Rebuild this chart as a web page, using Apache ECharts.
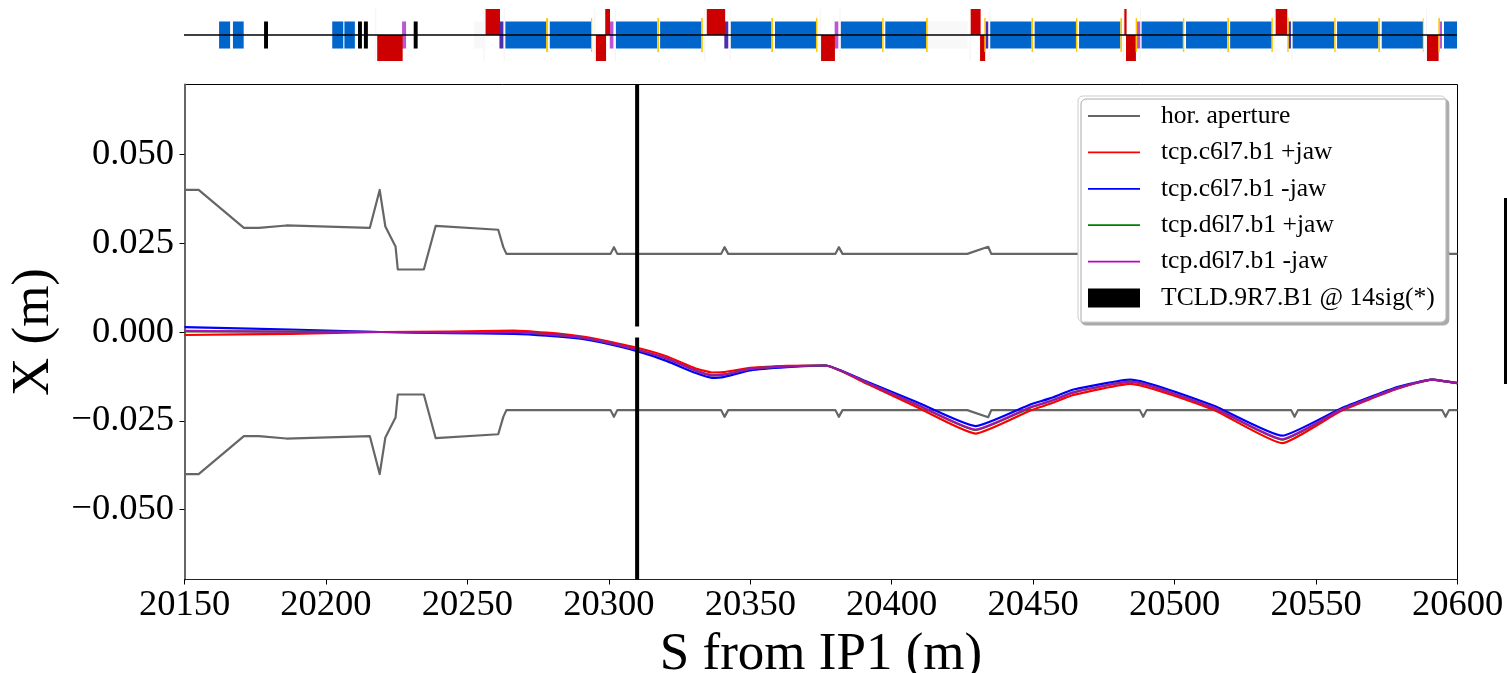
<!DOCTYPE html>
<html>
<head>
<meta charset="utf-8">
<style>html,body{margin:0;padding:0;background:#fff}#c{width:1507px;height:673px}</style>
<script src="https://cdn.jsdelivr.net/npm/echarts@6/dist/echarts.min.js"></script>
</head>
<body>
<div id="c"></div>
<script>
const xTicks = [20150,20200,20250,20300,20350,20400,20450,20500,20550,20600];
const yTicks = [-0.05,-0.025,0,0.025,0.05];

const aperS = [20150,20155,20171,20176.3,20186,20215.5,20219,20221,20224.6,20225.4,20234.6,20238.8,20260.9,20262.7,20263.8,20300.6,20301.8,20303,20339.7,20340.9,20342.2,20380.1,20381.3,20382.6,20426.7,20434.1,20435.2,20487.7,20488.9,20490.1,20541.2,20542.4,20543.6,20594.6,20595.8,20597,20600];
const aperUpper = [0.04,0.04,0.0293,0.0293,0.03,0.0293,0.04,0.0297,0.0241,0.0176,0.0176,0.0299,0.0288,0.0239,0.022,0.022,0.0239,0.022,0.022,0.0239,0.022,0.022,0.0239,0.022,0.022,0.024,0.022,0.022,0.0239,0.022,0.022,0.0239,0.022,0.022,0.0239,0.022,0.022];
const aperLower = [-0.04,-0.04,-0.0293,-0.0293,-0.03,-0.0293,-0.04,-0.0297,-0.0241,-0.0176,-0.0176,-0.0299,-0.0288,-0.0239,-0.022,-0.022,-0.0239,-0.022,-0.022,-0.0239,-0.022,-0.022,-0.0239,-0.022,-0.022,-0.024,-0.022,-0.022,-0.0239,-0.022,-0.022,-0.0239,-0.022,-0.022,-0.0239,-0.022,-0.022];

const jawS = [20150,20187.5,20219.3,20244,20266.3,20278,20290,20297,20310,20320.6,20330.5,20336.5,20340.5,20350,20363,20376.6,20391.3,20409,20429.6,20449,20456,20464.3,20484.4,20513.7,20538,20558.6,20578.7,20591,20600];
const c6Plus = [-0.00085,-0.0005,0,0.00014,0.0004,-0.0002,-0.0012,-0.0022,-0.00445,-0.0069,-0.0102,-0.0114,-0.0113,-0.0101,-0.0095,-0.00944,-0.0146,-0.0212,-0.0286,-0.0221,-0.0202,-0.0177,-0.0146,-0.0219,-0.0313,-0.0223,-0.016,-0.0134,-0.0144];
const c6Minus = [0.0014,0.0007,0,-0.0003,-0.0005,-0.001,-0.0019,-0.0029,-0.0054,-0.0082,-0.0115,-0.0129,-0.0127,-0.0108,-0.0099,-0.00944,-0.014,-0.0198,-0.0265,-0.0204,-0.0187,-0.0162,-0.0134,-0.0207,-0.0292,-0.0216,-0.0155,-0.0134,-0.0144];
const d6Plus = [0.0002,0.0001,0,-0.0001,0,-0.0006,-0.0015,-0.0025,-0.005,-0.0075,-0.0108,-0.0122,-0.012,-0.0104,-0.0097,-0.00944,-0.0143,-0.0205,-0.0276,-0.0213,-0.0195,-0.017,-0.014,-0.0213,-0.0303,-0.022,-0.0158,-0.0134,-0.0144];
const d6Minus = [0.0003,0.0001,0,-0.0001,0,-0.0006,-0.0015,-0.0025,-0.005,-0.0075,-0.0108,-0.0122,-0.012,-0.0104,-0.0097,-0.00944,-0.0143,-0.0205,-0.0275,-0.0212,-0.0195,-0.017,-0.014,-0.0213,-0.0302,-0.022,-0.0158,-0.0134,-0.0144];

const tcldS = 20310;
const tcldUpper = [0.0697,0.00156];
const tcldLower = [-0.00156,-0.0697];

// machine layout: [start S, end S]
const dipoles = [[20162.4,20166.3],[20167.3,20171.1],[20202.4,20206.3],[20206.7,20210.4],[20263.6,20278.2],[20279.3,20294],[20302.7,20317.3],[20318.3,20333],[20343.3,20357.7],[20358.9,20373.4],[20382.2,20396.8],[20397.9,20412.5],[20435,20449.6],[20450.7,20465.3],[20466.4,20481],[20488.5,20503.1],[20504.2,20518.8],[20519.8,20534.5],[20541.9,20556.6],[20557.6,20572.2],[20573.4,20588],[20595.4,20600]];
const collimators = [[20178.3,20179.7],[20211.5,20212.9],[20213.6,20215],[20231.2,20232.6]];
const quadsDown = [[20218.3,20227.3],[20295.6,20299.2],[20375.2,20380.1],[20431.4,20433.2],[20483,20486.5],[20589.4,20593.5]];
const quadsUp = [[20256.6,20261.7],[20298.9,20300.6],[20334.8,20341.3],[20428.1,20431.6],[20482.4,20483.2],[20535.9,20540]];
const sextF = [[20227.1,20228.5],[20300.5,20301.8],[20380,20381.3],[20486.9,20488],[20593.6,20594.7]];
const sextD = [[20261.5,20262.9],[20341,20342.4],[20433.3,20434.3],[20540.4,20541.3]];
const correctors = [[20278,20278.7],[20293.9,20294.3],[20317.3,20317.9],[20332.8,20333.4],[20357.6,20358.2],[20373.4,20373.9],[20396.8,20397.3],[20412.3,20412.9],[20432.9,20433.4],[20449.6,20450.1],[20465.3,20465.8],[20481,20481.6],[20486.4,20486.9],[20503.1,20503.6],[20518.8,20519.4],[20534.4,20534.9],[20540,20540.5],[20556.6,20557.1],[20572.2,20572.8],[20587.9,20588.2],[20593.4,20594]];
const driftsPale = [[20252.5,20256.6],[20412.9,20427]];
const markersFaint = [[20217.6,20218],[20255.9,20256.3],[20263,20263.4],[20295,20295.4],[20302.3,20302.7],[20333.9,20334.3],[20342.9,20343.3],[20374.7,20375.1],[20381.7,20382.1],[20427.7,20428.1],[20434.7,20435.1],[20481.9,20482.3],[20487.9,20488.3],[20535.4,20535.8],[20541.5,20541.9],[20589,20589.4]];

function zip(xs, ys){ return xs.map((x,i)=>[x,ys[i]]); }

function boxes(name, rows, color, lo, hi, z){
  return {
    type:'custom', name, xAxisIndex:1, yAxisIndex:1, silent:true, z, clip:false,
    encode:{x:[0,1]},
    data:rows,
    renderItem(params, api){
      const a = api.coord([api.value(0), hi]);
      const b = api.coord([api.value(1), lo]);
      return {type:'rect', shape:{x:a[0], y:a[1], width:b[0]-a[0], height:b[1]-a[1]}, style:{fill:color}};
    }
  };
}

function line(name, data, color, width, z, extra){
  return Object.assign({type:'line', name, data, symbol:'none', showSymbol:false, silent:true, z,
    lineStyle:{color, width, join:'round'}, itemStyle:{color}, xAxisIndex:0, yAxisIndex:0}, extra||{});
}

const APER='hor. aperture', C1='tcp.c6l7.b1 +jaw', C2='tcp.c6l7.b1 -jaw', D1='tcp.d6l7.b1 +jaw', D2='tcp.d6l7.b1 -jaw', T='TCLD.9R7.B1 @ 14sig(*)';
const serif='"Liberation Serif"';
const smoothed={smooth:0.15};
const lineIcon='path://M0 0h0.01v0.01h-0.01z M0 8.6H52V10.4H0z M0 18.99h0.01v0.01h-0.01z';
const legendLine=(name,color)=>({name, icon:lineIcon, itemStyle:{color}});

const chart = echarts.init(document.getElementById('c'), null, {renderer:'canvas'});
chart.setOption({
  animation:false,
  backgroundColor:'#fff',
  grid:[
    {left:184.5, right:49.5, top:84.5, height:495, show:true, borderColor:'#000', borderWidth:1, backgroundColor:'transparent', outerBoundsMode:'none', containLabel:false},
    {left:184, right:50, top:9, height:52, show:false, outerBoundsMode:'none', containLabel:false}
  ],
  xAxis:[
    {type:'value', gridIndex:0, min:20150, max:20600, interval:50,
     name:'S from IP1 (m)', nameLocation:'middle', nameGap:42,
     nameTextStyle:{fontFamily:serif, fontSize:53, color:'#000'},
     axisLine:{show:true, onZero:false, lineStyle:{color:'#222', width:1}},
     axisTick:{show:true, length:5, lineStyle:{color:'#000', width:1}},
     axisLabel:{show:true, fontFamily:serif, fontSize:36.5, color:'#000', margin:7, hideOverlap:false,
       customValues:xTicks, formatter:v=>String(v)},
     splitLine:{show:false}},
    {type:'value', gridIndex:1, min:20150, max:20600, show:false}
  ],
  yAxis:[
    {type:'value', gridIndex:0, min:-0.0697, max:0.0697,
     name:'X (m)', nameLocation:'middle', nameGap:104,
     nameTextStyle:{fontFamily:serif, fontSize:53, color:'#000'},
     axisLine:{show:true, onZero:false, lineStyle:{color:'#666', width:2}},
     axisTick:{show:true, length:5, lineStyle:{color:'#000', width:1}, customValues:yTicks},
     axisLabel:{show:true, fontFamily:serif, fontSize:36.5, color:'#000', margin:10.5, hideOverlap:false,
       customValues:yTicks,
       formatter:v=>(v<0?'\u2212':'')+Math.abs(v).toFixed(3)},
     splitLine:{show:false}},
    {type:'value', gridIndex:1, min:-1, max:1, show:false}
  ],
  legend:{
    z:30,
    left:1078, top:96, orient:'vertical',
    padding:[7,11,11,10],
    itemWidth:52, itemHeight:19, itemGap:10.4,
    backgroundColor:'#fff', borderColor:'#ccc', borderWidth:1, borderRadius:5,
    shadowColor:'#aaa', shadowOffsetX:3, shadowOffsetY:3, shadowBlur:0,
    textStyle:{fontFamily:serif, fontSize:25.6, color:'#000', padding:[0,0,0,16]},
    selectedMode:false,
    data:[legendLine(APER,'#666666'),legendLine(C1,'#ff0000'),legendLine(C2,'#0000ff'),legendLine(D1,'#008000'),legendLine(D2,'#c000c0'),{name:T, icon:'rect', itemStyle:{color:'#000'}}]
  },
  series:[
    boxes('faint', markersFaint, '#f4f4f4', -1, 1, 1),
    boxes('pale', driftsPale, '#f8f8f8', -0.52, 0.52, 1),
    boxes('dipole', dipoles, '#0066cc', -0.52, 0.52, 2),
    boxes('collimator', collimators, '#000000', -0.52, 0.52, 2),
    boxes('sextF', sextF, '#ba55d3', -0.52, 0.52, 2),
    boxes('sextD', sextD, '#4b2fb0', -0.52, 0.52, 2),
    boxes('quadDown', quadsDown, '#cc0000', -1, 0, 3),
    boxes('quadUp', quadsUp, '#cc0000', 0, 1, 3),
    boxes('corrector', correctors, '#ffc800', -0.65, 0.65, 3),
    line('beamline', [[20150,0],[20600,0]], '#000', 1.5, 5, {xAxisIndex:1, yAxisIndex:1}),
    line(APER, zip(aperS, aperUpper), '#666666', 2.2, 6),
    line(APER, zip(aperS, aperLower), '#666666', 2.2, 6),
    line(C1, zip(jawS, c6Plus), '#ff0000', 2.2, 7, smoothed),
    line(C2, zip(jawS, c6Minus), '#0000ff', 2.2, 8, smoothed),
    line(D1, zip(jawS, d6Plus), '#008000', 2.2, 9, smoothed),
    line(D2, zip(jawS, d6Minus), '#bf00bf', 2.2, 10, Object.assign({lineStyle:{color:'#bf00bf', width:2.2, opacity:0.85}}, smoothed)),
    line(T, [[tcldS,tcldUpper[0]],[tcldS,tcldUpper[1]]], '#000', 4, 11),
    line(T, [[tcldS,tcldLower[0]],[tcldS,tcldLower[1]]], '#000', 4, 11)
  ],
  graphic:[{type:'rect', left:1504, top:198, shape:{width:3, height:186}, style:{fill:'#000'}, silent:true}]
});
</script>
</body>
</html>
